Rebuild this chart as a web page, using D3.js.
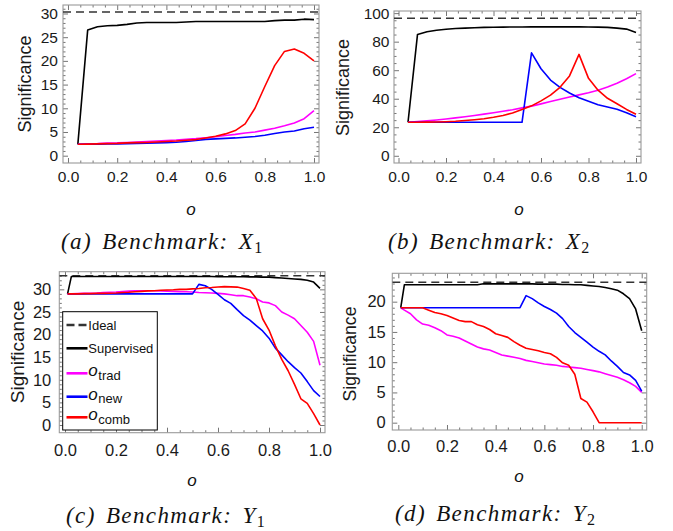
<!DOCTYPE html>
<html><head><meta charset="utf-8">
<script src="https://cdn.jsdelivr.net/npm/d3@7"></script>
<style>body{margin:0;background:#fff}svg{display:block}</style>
</head><body>
<svg id="chart" width="673" height="531"></svg>
<script>
// ---------- DATA ----------
const xAB = [0.04,0.08,0.12,0.16,0.2,0.24,0.28,0.32,0.36,0.4,0.44,0.48,0.52,0.56,0.6,0.64,0.68,0.72,0.76,0.8,0.84,0.88,0.92,0.96,1.0];
const xCD = [0.01,0.025,0.05,0.075,0.1,0.125,0.15,0.175,0.2,0.225,0.25,0.275,0.3,0.325,0.35,0.375,0.4,0.425,0.45,0.475,0.5,0.525,0.55,0.575,0.6,0.625,0.65,0.675,0.7,0.725,0.75,0.775,0.8,0.825,0.85,0.875,0.9,0.925,0.95,0.975,1.0];

// (a) Benchmark X1
const aIdeal = 30.3;
const aSup  = [2.4,26.5,27.2,27.4,27.5,27.7,28.0,28.1,28.1,28.1,28.1,28.2,28.3,28.3,28.3,28.3,28.3,28.3,28.3,28.3,28.5,28.6,28.6,28.8,28.7];
const aTrad = [2.4,2.5,2.55,2.65,2.7,2.8,2.9,3.0,3.1,3.2,3.3,3.45,3.6,3.8,4.0,4.25,4.5,4.8,5.0,5.4,5.8,6.3,6.9,7.8,9.5];
const aNew  = [2.4,2.4,2.45,2.5,2.5,2.55,2.6,2.65,2.7,2.75,2.85,3.0,3.2,3.45,3.55,3.65,3.75,3.9,4.05,4.3,4.7,5.0,5.2,5.7,6.0];
const aComb = [2.4,2.45,2.5,2.55,2.6,2.7,2.75,2.8,2.9,3.0,3.1,3.25,3.4,3.75,4.1,4.6,5.3,6.7,10.0,14.6,19.0,22.0,22.5,21.6,20.0];

// (b) Benchmark X2
const bIdeal = 96.4;
const bSup  = [23.5,85.1,87.0,88.0,88.7,89.2,89.5,89.8,90.0,90.1,90.2,90.3,90.3,90.4,90.4,90.4,90.4,90.4,90.4,90.3,90.2,90.0,89.5,88.8,86.5];
const bTrad = [23.5,24.0,24.5,25.1,25.8,26.6,27.4,28.3,29.2,30.2,31.2,32.3,33.6,34.8,36.4,38.0,39.6,41.2,42.7,44.2,46.0,48.2,50.8,54.0,57.6];
const bNew  = [23.5,23.5,23.5,23.5,23.5,23.5,23.5,23.5,23.5,23.5,23.5,23.5,23.5,72.2,61.0,53.1,48.0,44.0,40.7,38.2,35.8,34.2,32.6,30.2,27.4];
const bComb = [23.5,23.5,23.6,23.7,23.9,24.2,24.7,25.3,26.0,27.0,28.3,30.0,32.5,35.0,38.5,42.5,48.0,56.0,71.1,54.3,46.0,40.3,36.5,32.5,29.1];

// (c) Benchmark Y1
const cIdeal = 33.0;
const cSup  = [29.0,32.85,32.85,32.85,32.85,32.85,32.85,32.85,32.85,32.85,32.85,32.85,32.85,32.85,32.85,32.85,32.85,32.85,32.85,32.85,32.85,32.85,32.85,32.85,32.8,32.8,32.8,32.8,32.8,32.75,32.75,32.7,32.7,32.6,32.5,32.4,32.3,32.2,32.0,31.6,30.2];
const cTrad = [29.0,29.0,29.05,29.1,29.15,29.2,29.3,29.35,29.4,29.5,29.6,29.65,29.7,29.7,29.7,29.65,29.6,29.55,29.5,29.45,29.4,29.3,29.25,29.2,29.1,29.0,28.8,28.6,28.6,28.3,27.9,27.2,27.0,26.4,25.0,24.3,23.5,22.0,20.5,18.5,13.2];
const cNew  = [29.0,29.0,29.0,29.0,29.0,29.0,29.0,29.0,29.0,29.0,29.0,29.0,29.0,29.0,29.0,29.0,29.0,29.0,29.0,29.0,29.0,31.1,30.8,30.0,28.9,27.7,26.9,25.5,24.2,23.2,22.0,20.8,19.2,17.0,15.5,14.0,12.7,11.5,9.6,7.6,6.3];
const cComb = [29.0,29.0,29.0,29.05,29.05,29.1,29.1,29.15,29.2,29.3,29.35,29.45,29.55,29.65,29.7,29.8,29.85,29.9,30.0,30.0,30.1,30.2,30.35,30.4,30.5,30.6,30.55,30.5,30.2,29.8,28.0,23.5,21.0,17.5,14.5,12.0,9.0,5.8,4.8,2.5,0.0];

// (d) Benchmark Y2
const dIdeal = 23.2;
const dSup  = [19.0,22.8,22.8,22.8,22.8,22.8,22.8,22.8,22.8,22.8,22.8,22.8,22.8,22.8,22.95,22.95,22.95,22.95,22.95,22.95,22.95,22.95,22.95,22.9,22.9,22.9,22.9,22.85,22.85,22.8,22.8,22.7,22.6,22.5,22.35,22.15,21.9,21.3,20.5,18.8,15.2];
const dTrad = [19.0,18.6,18.0,17.0,16.3,16.1,15.7,15.2,14.5,14.3,14.0,13.5,13.0,12.5,12.2,12.0,11.6,11.2,11.0,10.8,10.6,10.3,10.1,9.9,9.7,9.6,9.5,9.3,9.2,9.1,9.0,8.8,8.6,8.4,8.1,7.8,7.5,7.1,6.6,6.0,5.0];
const dNew  = [19.0,19.0,19.0,19.0,19.0,19.0,19.0,19.0,19.0,19.0,19.0,19.0,19.0,19.0,19.0,19.0,19.0,19.0,19.0,19.0,19.0,21.0,20.5,19.8,19.2,18.7,18.1,17.2,15.9,14.9,14.1,13.3,12.5,11.8,11.2,10.2,9.3,8.3,7.9,7.0,5.2];
const dComb = [19.0,19.0,19.0,19.0,19.0,18.6,18.2,18.0,17.7,17.3,16.9,16.7,16.7,16.2,15.9,15.4,14.7,14.4,14.1,13.4,12.8,12.3,12.1,11.9,11.6,11.4,10.8,9.9,9.5,8.0,4.0,3.4,1.8,0,0,0,0,0,0,0,0];

// ticks
const xTickVals = [0.0,0.2,0.4,0.6,0.8,1.0];
const yTicksA = [0,5,10,15,20,25,30];
const yTicksB = [0,20,40,60,80,100];
const yTicksC = [0,5,10,15,20,25,30];
const yTicksD = [0,5,10,15,20];

// legend
const legendLabels = ["Ideal","Supervised","trad","new","comb"];
const seriesColors = ["#333333","#000000","#ff00ff","#0000ff","#ff0000"];

// ---------- LAYOUT ----------
const panels = [
  {xs:xAB, ideal:aIdeal, series:[aSup,aTrad,aNew,aComb], yTicks:yTicksA, yMinor:1,
   frame:[63,5,319,163], xDom:[-0.0203,1.0203], yDom:[-1.54,31.79],
   tfs:15.5, xPad:8, yPad:5, ylab:[25,84,18], olab:[191,209], cap:{x:61,y:249,pre:"(a) Benchmark: ",v:"X",s:"1"}},
  {xs:xAB, ideal:bIdeal, series:[bSup,bTrad,bNew,bComb], yTicks:yTicksB, yMinor:5,
   frame:[394,11,641,163], xDom:[-0.019,1.021], yDom:[-5.05,101.5],
   tfs:15.5, xPad:8, yPad:4.5, ylab:[343,87.5,18], olab:[519,209], cap:{x:388,y:249,pre:"(b) Benchmark: ",v:"X",s:"2"}},
  {xs:xCD, ideal:cIdeal, series:[cSup,cTrad,cNew,cComb], yTicks:yTicksC, yMinor:1,
   frame:[59.3,271.7,325,432.7], xDom:[-0.0224,1.0196], yDom:[-1.70,33.9],
   tfs:16.5, xPad:11.5, yPad:8, ylab:[17,352,19], olab:[192,480], cap:{x:66,y:523,pre:"(c) Benchmark: ",v:"Y",s:"1"}, legend:true},
  {xs:xCD, ideal:dIdeal, series:[dSup,dTrad,dNew,dComb], yTicks:yTicksD, yMinor:1,
   frame:[392.3,273.3,646.7,430], xDom:[-0.0247,1.0205], yDom:[-1.21,24.69],
   tfs:16.5, xPad:10.5, yPad:6.5, ylab:[350,354,17.6], olab:[519,476], cap:{x:395,y:521,pre:"(d) Benchmark: ",v:"Y",s:"2"}}
];

const svg = d3.select('#chart');
const FRAME = '#9a9a9a', TICK = '#666', LABEL = '#1a1a1a';

panels.forEach((p, pi) => {
  const g = svg.append('g');
  const [L,T,R,B] = p.frame;
  const x = d3.scaleLinear().domain(p.xDom).range([L,R]);
  const y = d3.scaleLinear().domain(p.yDom).range([B,T]);

  const clipId = 'clip'+pi;
  g.append('clipPath').attr('id',clipId).append('rect')
    .attr('x',L).attr('y',T).attr('width',R-L).attr('height',B-T);

  const xMinor = d3.range(0,1.0001,0.05).filter(v=>Math.abs(v*5-Math.round(v*5))>1e-6);
  const yMinor = d3.range(0, p.yDom[1], p.yMinor).filter(v=>!p.yTicks.includes(v));

  function style(sel, labels){
    sel.select('.domain').remove();
    sel.attr('color',TICK).attr('font-family','"Liberation Sans", Arial, sans-serif').attr('font-size',p.tfs);
    sel.selectAll('line').attr('stroke-width',0.9);
    if (labels) sel.selectAll('text').attr('fill',LABEL);
  }
  // bottom
  g.append('g').attr('transform',`translate(0,${B})`)
    .call(d3.axisBottom(x).tickValues(xTickVals).tickFormat(d3.format('.1f')).tickSizeInner(-5).tickSizeOuter(0).tickPadding(p.xPad))
    .call(s=>style(s,true));
  g.append('g').attr('transform',`translate(0,${B})`)
    .call(d3.axisBottom(x).tickValues(xMinor).tickFormat('').tickSizeInner(-2.5).tickSizeOuter(0))
    .call(s=>style(s,false));
  // top
  g.append('g').attr('transform',`translate(0,${T})`)
    .call(d3.axisTop(x).tickValues(xTickVals).tickFormat('').tickSizeInner(-5).tickSizeOuter(0))
    .call(s=>style(s,false));
  g.append('g').attr('transform',`translate(0,${T})`)
    .call(d3.axisTop(x).tickValues(xMinor).tickFormat('').tickSizeInner(-2.5).tickSizeOuter(0))
    .call(s=>style(s,false));
  // left
  g.append('g').attr('transform',`translate(${L},0)`)
    .call(d3.axisLeft(y).tickValues(p.yTicks).tickFormat(d3.format('d')).tickSizeInner(-5).tickSizeOuter(0).tickPadding(p.yPad))
    .call(s=>style(s,true));
  g.append('g').attr('transform',`translate(${L},0)`)
    .call(d3.axisLeft(y).tickValues(yMinor).tickFormat('').tickSizeInner(-2.5).tickSizeOuter(0))
    .call(s=>style(s,false));
  // right
  g.append('g').attr('transform',`translate(${R},0)`)
    .call(d3.axisRight(y).tickValues(p.yTicks).tickFormat('').tickSizeInner(-5).tickSizeOuter(0))
    .call(s=>style(s,false));
  g.append('g').attr('transform',`translate(${R},0)`)
    .call(d3.axisRight(y).tickValues(yMinor).tickFormat('').tickSizeInner(-2.5).tickSizeOuter(0))
    .call(s=>style(s,false));

  // frame
  g.append('rect').attr('x',L).attr('y',T).attr('width',R-L).attr('height',B-T)
    .attr('fill','none').attr('stroke',FRAME).attr('stroke-width',1.1);

  const plot = g.append('g').attr('clip-path',`url(#${clipId})`);
  // ideal
  plot.append('path')
    .attr('d', d3.line().x(d=>x(d[0])).y(d=>y(d[1]))([[p.xDom[0],p.ideal],[p.xDom[1],p.ideal]]))
    .attr('fill','none').attr('stroke','#333').attr('stroke-width',1.5).attr('stroke-dasharray','8,5');
  const line = d3.line().x(d=>x(d[0])).y(d=>y(d[1]));
  p.series.forEach((ys,i)=>{
    plot.append('path').attr('d', line(d3.zip(p.xs, ys)))
      .attr('fill','none').attr('stroke',seriesColors[i+1]).attr('stroke-width',1.6)
      .attr('stroke-linejoin','round');
  });

  // y label
  g.append('text').attr('transform',`translate(${p.ylab[0]},${p.ylab[1]}) rotate(-90)`)
    .attr('text-anchor','middle').attr('dominant-baseline','central')
    .attr('font-family','"Liberation Sans", Arial, sans-serif').attr('font-size',p.ylab[2]).attr('fill',LABEL)
    .text('Significance');
  // x label
  g.append('text').attr('x',p.olab[0]).attr('y',p.olab[1]).attr('text-anchor','middle').attr('dominant-baseline','central')
    .attr('font-family','"Liberation Sans", Arial, sans-serif').attr('font-style','italic').attr('font-size',17).attr('fill','#111')
    .text('o');
  // caption
  const cap = g.append('text').attr('x',p.cap.x).attr('y',p.cap.y)
    .attr('font-family','"Liberation Serif","Times New Roman",serif').attr('font-size',23).attr('fill','#111')
    .attr('letter-spacing',1.4).attr('word-spacing',3);
  cap.append('tspan').attr('font-style','italic').text(p.cap.pre);
  cap.append('tspan').attr('font-style','italic').text(p.cap.v);
  cap.append('tspan').attr('font-size',16).attr('dy',4).text(p.cap.s);

  if (p.legend){
    const lg = g.append('g');
    lg.append('rect').attr('x',62.7).attr('y',311.7).attr('width',94.6).attr('height',118.3)
      .attr('fill','#fff').attr('stroke','#000').attr('stroke-width',1);
    const ys = [325,348.3,373.3,396.7,417.3];
    legendLabels.forEach((lab,i)=>{
      lg.append('line').attr('x1',66.5).attr('x2',87.5).attr('y1',ys[i]).attr('y2',ys[i])
        .attr('stroke',seriesColors[i]).attr('stroke-width',2.6)
        .attr('stroke-dasharray', i===0 ? '8,4' : null);
      const t = lg.append('text').attr('x',88.3).attr('y',ys[i]+4.5)
        .attr('font-family','"Liberation Sans", Arial, sans-serif').attr('font-size',13).attr('fill','#111');
      if (i<2) t.text(lab);
      else {
        t.append('tspan').attr('font-style','italic').attr('font-size',17).attr('dy',-1.5).text('o');
        t.append('tspan').attr('dy',3.5).attr('dx',0.5).text(lab);
      }
    });
  }
});
</script>
</body></html>
